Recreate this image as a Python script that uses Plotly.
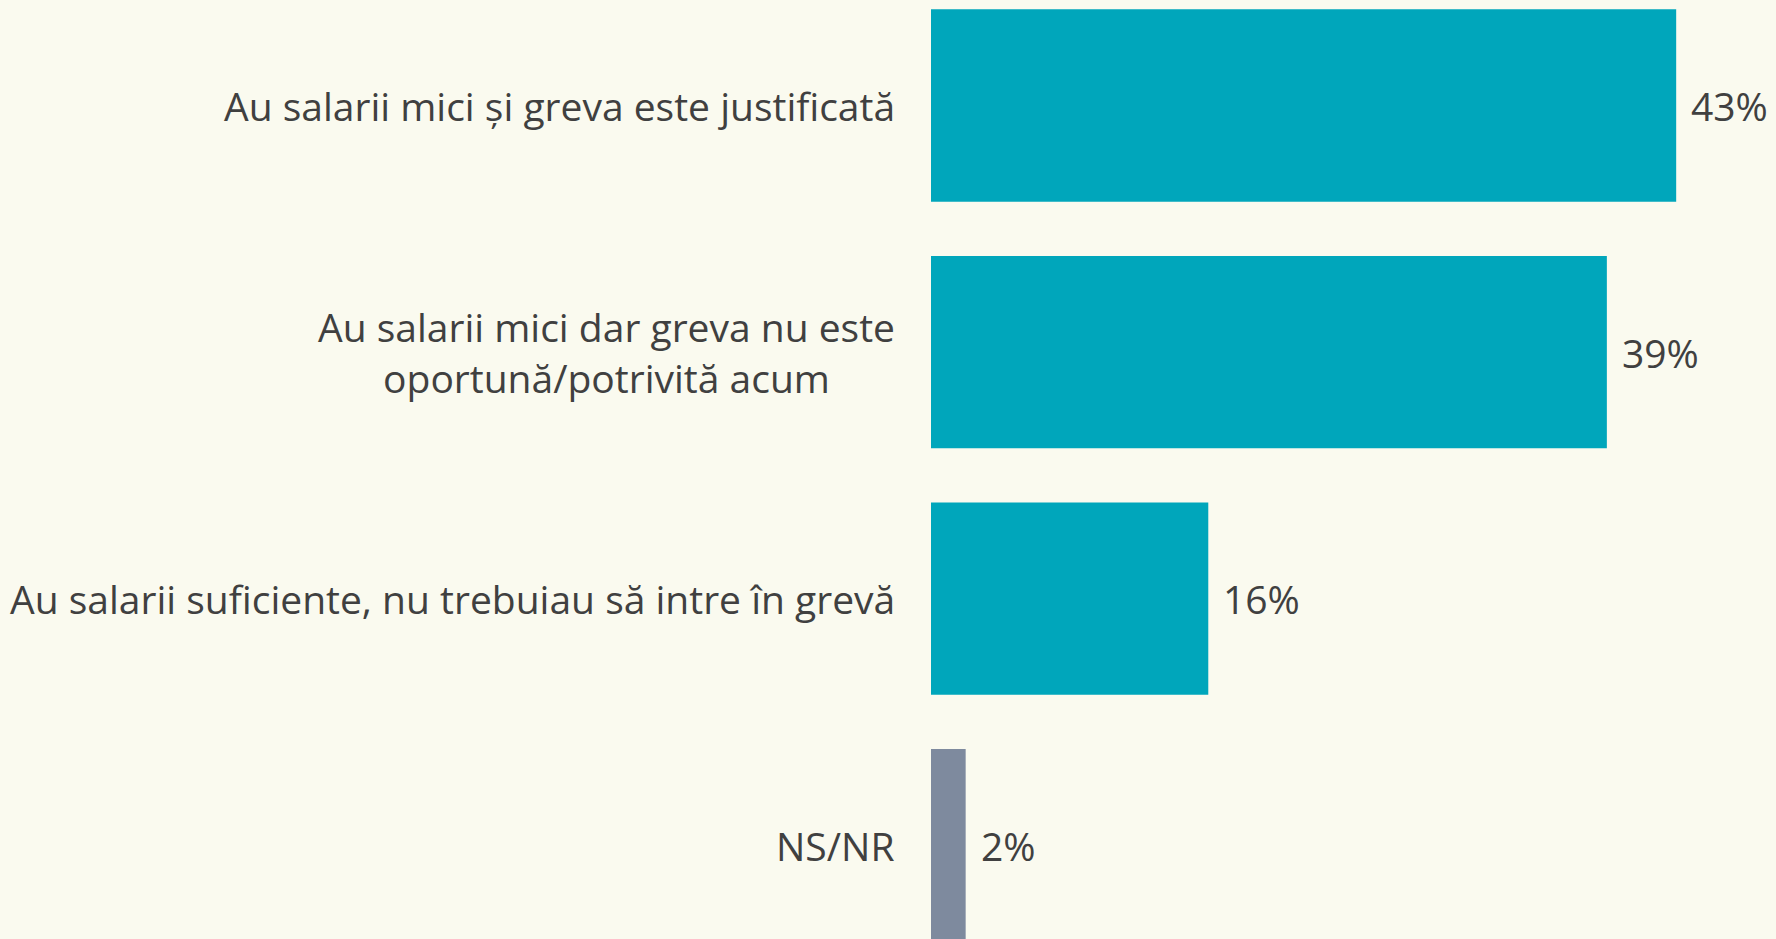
import plotly.graph_objects as go

categories = [
    "Au salarii mici și greva este justificată",
    "Au salarii mici dar greva nu este<br>oportună/potrivită acum",
    "Au salarii suficiente, nu trebuiau să intre în grevă",
    "NS/NR",
]
values = [43, 39, 16, 2]
colors = ["#00A6BB", "#00A6BB", "#00A6BB", "#7E8A9E"]

FONT = "Open Sans"
FONT_SIZE = 39
TEXT_COLOR = "#404040"
BG = "#FAFAEF"

fig = go.Figure()
fig.add_trace(go.Bar(
    x=values,
    y=list(range(len(categories))),
    orientation="h",
    width=0.78,
    marker=dict(color=colors, line=dict(width=0)),
    hoverinfo="skip",
))

# category labels, centred multi-line text right-aligned to the bars
for i, cat in enumerate(categories):
    fig.add_annotation(
        x=0, y=i, xref="x", yref="y",
        text=cat, showarrow=False,
        xanchor="right", yanchor="middle", align="center",
        xshift=-34,
        font=dict(family=FONT, size=FONT_SIZE, color=TEXT_COLOR),
    )

# value labels at the bar ends
for i, v in enumerate(values):
    fig.add_annotation(
        x=v, y=i, xref="x", yref="y",
        text=f"{v}%", showarrow=False,
        xanchor="left", yanchor="middle",
        xshift=13,
        font=dict(family=FONT, size=FONT_SIZE, color=TEXT_COLOR),
    )

fig.update_layout(
    width=1776, height=939,
    margin=dict(l=931, r=0, t=0, b=0),
    paper_bgcolor=BG, plot_bgcolor=BG,
    showlegend=False,
    bargap=0.22,
)
fig.update_xaxes(range=[0, 48.76], visible=False, fixedrange=True)
fig.update_yaxes(range=[3.381, -0.428], visible=False, fixedrange=True)

fig.write_html(
    "out.html",
    config={"displayModeBar": False},
    post_script="document.body.style.margin='0';document.body.style.overflow='hidden';",
)
